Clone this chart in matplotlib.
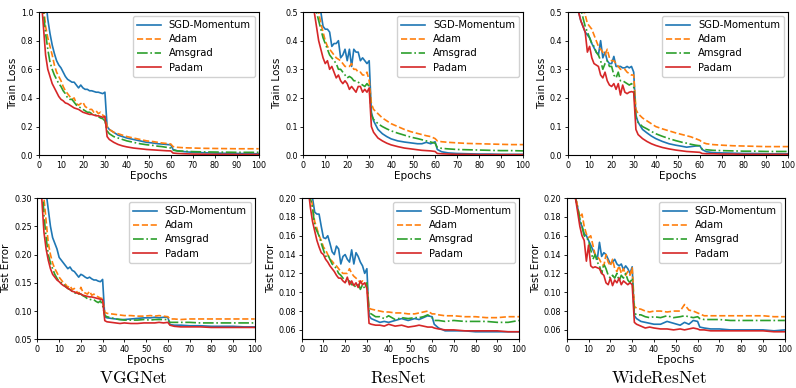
#train loss / test error curves for the three nets
import matplotlib
matplotlib.use('Agg')
import matplotlib.pyplot as plt

plt.rcParams['mathtext.fontset'] = 'cm'

epochs = [1, 2, 3, 4, 5, 6, 7, 8, 9, 10,
          11, 12, 13, 14, 15, 16, 17, 18, 19, 20,
          21, 22, 23, 24, 25, 26, 27, 28, 29, 30,
          31, 32, 34, 36, 38, 40, 43, 46, 49, 52,
          54, 56, 58, 60, 61, 63, 66, 70, 75, 80,
          85, 90, 95, 100]

methods = ['SGD-Momentum', 'Adam', 'Amsgrad', 'Padam']
nets = ['VGGNet', 'ResNet', 'WideResNet']

# VGGNet train loss
vgg_train_sgd = [1.5, 1.3, 1.1, 0.95, 0.85, 0.77, 0.71, 0.66, 0.63, 0.61,
                 0.58, 0.55, 0.53, 0.52, 0.51, 0.51, 0.49, 0.47, 0.49, 0.47,
                 0.46, 0.46, 0.45, 0.45, 0.445, 0.44, 0.44, 0.435, 0.43, 0.44,
                 0.2, 0.18, 0.16, 0.14, 0.13, 0.12, 0.11, 0.10, 0.09, 0.085,
                 0.08, 0.078, 0.075, 0.072, 0.04, 0.03, 0.025, 0.02, 0.017, 0.015,
                 0.013, 0.012, 0.011, 0.01]
vgg_train_adam = [1.3, 1.05, 0.9, 0.82, 0.76, 0.70, 0.63, 0.58, 0.55, 0.52,
                  0.48, 0.45, 0.43, 0.41, 0.39, 0.40, 0.36, 0.35, 0.36, 0.37,
                  0.34, 0.33, 0.32, 0.32, 0.30, 0.31, 0.29, 0.30, 0.28, 0.27,
                  0.20, 0.18, 0.16, 0.15, 0.14, 0.13, 0.12, 0.11, 0.10, 0.095,
                  0.09, 0.085, 0.082, 0.078, 0.06, 0.055, 0.052, 0.05, 0.048, 0.047,
                  0.046, 0.045, 0.045, 0.045]
vgg_train_ams = [1.2, 1.0, 0.85, 0.74, 0.65, 0.6, 0.56, 0.53, 0.5, 0.48,
                 0.45, 0.43, 0.40, 0.39, 0.39, 0.37, 0.35, 0.34, 0.33, 0.32,
                 0.31, 0.30, 0.30, 0.29, 0.28, 0.28, 0.27, 0.26, 0.255, 0.24,
                 0.17, 0.15, 0.13, 0.12, 0.11, 0.10, 0.09, 0.08, 0.073, 0.068,
                 0.063, 0.06, 0.055, 0.05, 0.035, 0.03, 0.028, 0.025, 0.023, 0.022,
                 0.021, 0.02, 0.02, 0.02]
vgg_train_padam = [1.1, 0.9, 0.7, 0.6, 0.55, 0.5, 0.47, 0.44, 0.41, 0.39,
                   0.38, 0.365, 0.36, 0.35, 0.34, 0.33, 0.325, 0.32, 0.31, 0.30,
                   0.295, 0.29, 0.285, 0.285, 0.28, 0.275, 0.275, 0.27, 0.265, 0.27,
                   0.13, 0.11, 0.09, 0.075, 0.065, 0.058, 0.05, 0.045, 0.04, 0.037,
                   0.035, 0.033, 0.031, 0.03, 0.015, 0.012, 0.01, 0.008, 0.007, 0.006,
                   0.006, 0.005, 0.005, 0.005]

# ResNet train loss
res_train_sgd = [1.2, 1.0, 0.85, 0.75, 0.65, 0.6, 0.55, 0.5, 0.45, 0.44,
                 0.44, 0.43, 0.38, 0.39, 0.39, 0.40, 0.34, 0.35, 0.37, 0.33,
                 0.37, 0.31, 0.37, 0.36, 0.36, 0.33, 0.34, 0.33, 0.32, 0.33,
                 0.15, 0.12, 0.09, 0.075, 0.065, 0.057, 0.05, 0.046, 0.043, 0.04,
                 0.04, 0.045, 0.04, 0.047, 0.02, 0.012, 0.008, 0.006, 0.005, 0.004,
                 0.004, 0.003, 0.003, 0.003]
res_train_adam = [1.1, 0.9, 0.75, 0.65, 0.58, 0.54, 0.5, 0.46, 0.43, 0.40,
                  0.38, 0.37, 0.36, 0.35, 0.34, 0.335, 0.33, 0.32, 0.31, 0.31,
                  0.31, 0.32, 0.30, 0.30, 0.29, 0.29, 0.28, 0.28, 0.29, 0.26,
                  0.18, 0.16, 0.145, 0.13, 0.12, 0.11, 0.1, 0.09, 0.082, 0.076,
                  0.072, 0.068, 0.065, 0.058, 0.05, 0.047, 0.045, 0.043, 0.041, 0.04,
                  0.039, 0.038, 0.037, 0.037]
res_train_ams = [1.0, 0.85, 0.7, 0.6, 0.53, 0.5, 0.47, 0.44, 0.41, 0.39,
                 0.37, 0.35, 0.34, 0.33, 0.32, 0.30, 0.30, 0.29, 0.28, 0.27,
                 0.275, 0.27, 0.26, 0.26, 0.255, 0.25, 0.245, 0.24, 0.25, 0.24,
                 0.14, 0.125, 0.11, 0.1, 0.092, 0.085, 0.077, 0.07, 0.063, 0.058,
                 0.054, 0.05, 0.046, 0.042, 0.027, 0.024, 0.022, 0.02, 0.019, 0.018,
                 0.017, 0.016, 0.016, 0.015]
res_train_padam = [0.9, 0.75, 0.62, 0.55, 0.5, 0.45, 0.40, 0.37, 0.34, 0.32,
                   0.33, 0.30, 0.31, 0.29, 0.27, 0.28, 0.26, 0.25, 0.26, 0.25,
                   0.23, 0.24, 0.23, 0.22, 0.24, 0.24, 0.22, 0.23, 0.22, 0.235,
                   0.10, 0.08, 0.06, 0.05, 0.042, 0.036, 0.03, 0.025, 0.022, 0.019,
                   0.017, 0.016, 0.015, 0.013, 0.006, 0.005, 0.004, 0.003, 0.003, 0.002,
                   0.002, 0.002, 0.002, 0.002]

# WideResNet train loss
wrn_train_sgd = [0.9, 0.75, 0.64, 0.56, 0.5, 0.47, 0.45, 0.43, 0.42, 0.41,
                 0.39, 0.375, 0.36, 0.35, 0.40, 0.34, 0.36, 0.33, 0.32, 0.32,
                 0.345, 0.31, 0.31, 0.31, 0.305, 0.305, 0.31, 0.305, 0.31, 0.29,
                 0.14, 0.115, 0.09, 0.078, 0.067, 0.058, 0.048, 0.04, 0.035, 0.031,
                 0.028, 0.03, 0.032, 0.033, 0.02, 0.012, 0.009, 0.008, 0.007, 0.006,
                 0.006, 0.005, 0.005, 0.005]
wrn_train_adam = [1.1, 0.9, 0.78, 0.68, 0.6, 0.55, 0.51, 0.49, 0.46, 0.45,
                  0.44, 0.42, 0.40, 0.38, 0.37, 0.36, 0.35, 0.37, 0.34, 0.33,
                  0.33, 0.32, 0.31, 0.30, 0.30, 0.30, 0.29, 0.285, 0.28, 0.28,
                  0.16, 0.145, 0.13, 0.12, 0.11, 0.10, 0.092, 0.085, 0.078, 0.072,
                  0.068, 0.064, 0.058, 0.052, 0.045, 0.04, 0.037, 0.035, 0.033, 0.032,
                  0.031, 0.03, 0.03, 0.03]
wrn_train_ams = [1.0, 0.82, 0.7, 0.62, 0.56, 0.51, 0.48, 0.45, 0.43, 0.41,
                 0.39, 0.38, 0.36, 0.35, 0.33, 0.30, 0.32, 0.33, 0.31, 0.31,
                 0.28, 0.27, 0.29, 0.26, 0.26, 0.255, 0.25, 0.245, 0.25, 0.24,
                 0.13, 0.115, 0.1, 0.092, 0.083, 0.075, 0.066, 0.058, 0.051, 0.045,
                 0.042, 0.038, 0.035, 0.033, 0.022, 0.019, 0.017, 0.016, 0.015, 0.014,
                 0.014, 0.013, 0.013, 0.013]
wrn_train_padam = [0.9, 0.75, 0.63, 0.55, 0.5, 0.47, 0.45, 0.43, 0.36, 0.38,
                   0.34, 0.32, 0.315, 0.31, 0.28, 0.27, 0.29, 0.26, 0.245, 0.24,
                   0.25, 0.23, 0.25, 0.21, 0.245, 0.22, 0.215, 0.22, 0.222, 0.22,
                   0.09, 0.072, 0.058, 0.048, 0.04, 0.034, 0.027, 0.022, 0.018, 0.015,
                   0.013, 0.012, 0.011, 0.01, 0.006, 0.005, 0.005, 0.004, 0.004, 0.003,
                   0.003, 0.003, 0.003, 0.003]

# VGGNet test error
vgg_test_sgd = [0.6, 0.45, 0.36, 0.31, 0.28, 0.25, 0.23, 0.22, 0.21, 0.195,
                0.19, 0.185, 0.18, 0.175, 0.178, 0.172, 0.17, 0.165, 0.16, 0.165,
                0.163, 0.16, 0.158, 0.16, 0.157, 0.155, 0.155, 0.153, 0.152, 0.156,
                0.09, 0.088, 0.087, 0.086, 0.085, 0.085, 0.086, 0.087, 0.088, 0.088,
                0.089, 0.088, 0.089, 0.089, 0.076, 0.075, 0.075, 0.074, 0.074, 0.073,
                0.073, 0.073, 0.072, 0.072]
vgg_test_adam = [0.5, 0.38, 0.3, 0.26, 0.22, 0.2, 0.185, 0.175, 0.168, 0.16,
                 0.155, 0.15, 0.147, 0.142, 0.145, 0.138, 0.14, 0.135, 0.13, 0.142,
                 0.133, 0.132, 0.13, 0.135, 0.128, 0.13, 0.127, 0.125, 0.123, 0.122,
                 0.098, 0.096, 0.095, 0.094, 0.093, 0.092, 0.092, 0.091, 0.091, 0.092,
                 0.091, 0.092, 0.091, 0.09, 0.086, 0.086, 0.085, 0.086, 0.086, 0.086,
                 0.086, 0.086, 0.086, 0.086]
vgg_test_ams = [0.45, 0.34, 0.27, 0.23, 0.2, 0.185, 0.175, 0.165, 0.158, 0.152,
                0.15, 0.148, 0.143, 0.14, 0.138, 0.135, 0.133, 0.13, 0.131, 0.13,
                0.127, 0.125, 0.122, 0.12, 0.121, 0.12, 0.117, 0.115, 0.118, 0.11,
                0.092, 0.09, 0.088, 0.086, 0.085, 0.084, 0.084, 0.084, 0.085, 0.084,
                0.085, 0.085, 0.085, 0.085, 0.08, 0.08, 0.08, 0.08, 0.079, 0.079,
                0.079, 0.079, 0.079, 0.079]
vgg_test_padam = [0.4, 0.3, 0.24, 0.21, 0.19, 0.175, 0.165, 0.16, 0.155, 0.152,
                  0.148, 0.145, 0.143, 0.14, 0.138, 0.135, 0.134, 0.132, 0.131, 0.13,
                  0.128, 0.127, 0.126, 0.125, 0.125, 0.124, 0.123, 0.122, 0.121, 0.12,
                  0.083, 0.081, 0.08, 0.079, 0.078, 0.079, 0.078, 0.078, 0.079, 0.079,
                  0.079, 0.08, 0.079, 0.08, 0.075, 0.073, 0.072, 0.072, 0.072, 0.071,
                  0.071, 0.071, 0.071, 0.071]

# ResNet test error
res_test_sgd = [0.35, 0.3, 0.26, 0.225, 0.2, 0.185, 0.183, 0.183, 0.17, 0.158,
                0.157, 0.16, 0.152, 0.143, 0.14, 0.149, 0.146, 0.13, 0.138, 0.14,
                0.135, 0.132, 0.145, 0.13, 0.142, 0.138, 0.132, 0.128, 0.12, 0.125,
                0.075, 0.072, 0.07, 0.068, 0.069, 0.068, 0.07, 0.072, 0.07, 0.072,
                0.071, 0.073, 0.075, 0.074, 0.066, 0.062, 0.059, 0.059, 0.059, 0.058,
                0.058, 0.058, 0.058, 0.058]
res_test_adam = [0.3, 0.26, 0.23, 0.21, 0.19, 0.175, 0.168, 0.16, 0.155, 0.148,
                 0.145, 0.14, 0.135, 0.133, 0.13, 0.128, 0.125, 0.122, 0.12, 0.12,
                 0.12, 0.125, 0.12, 0.117, 0.115, 0.113, 0.11, 0.112, 0.11, 0.108,
                 0.083, 0.082, 0.081, 0.08, 0.079, 0.079, 0.078, 0.078, 0.077, 0.077,
                 0.078, 0.079, 0.08, 0.077, 0.077, 0.076, 0.075, 0.075, 0.074, 0.074,
                 0.073, 0.073, 0.074, 0.074]
res_test_ams = [0.3, 0.26, 0.225, 0.2, 0.19, 0.17, 0.165, 0.16, 0.152, 0.145,
                0.138, 0.14, 0.135, 0.13, 0.128, 0.125, 0.12, 0.118, 0.115, 0.112,
                0.11, 0.112, 0.108, 0.108, 0.105, 0.11, 0.103, 0.108, 0.104, 0.11,
                0.078, 0.077, 0.074, 0.074, 0.072, 0.075, 0.071, 0.073, 0.072, 0.073,
                0.073, 0.074, 0.076, 0.073, 0.07, 0.07, 0.069, 0.07, 0.069, 0.069,
                0.069, 0.068, 0.068, 0.07]
res_test_padam = [0.28, 0.24, 0.21, 0.19, 0.175, 0.165, 0.155, 0.148, 0.142, 0.14,
                  0.135, 0.132, 0.128, 0.125, 0.122, 0.118, 0.115, 0.115, 0.112, 0.11,
                  0.116, 0.108, 0.112, 0.107, 0.11, 0.105, 0.112, 0.108, 0.11, 0.104,
                  0.067, 0.066, 0.065, 0.065, 0.064, 0.066, 0.064, 0.065, 0.063, 0.064,
                  0.065, 0.064, 0.063, 0.063, 0.062, 0.061, 0.06, 0.06, 0.059, 0.059,
                  0.059, 0.059, 0.058, 0.058]

# WideResNet test error
wrn_test_sgd = [0.3, 0.26, 0.23, 0.2, 0.19, 0.175, 0.17, 0.162, 0.16, 0.155,
                0.15, 0.145, 0.14, 0.135, 0.153, 0.138, 0.142, 0.14, 0.135, 0.13,
                0.132, 0.135, 0.13, 0.128, 0.13, 0.124, 0.128, 0.125, 0.12, 0.127,
                0.075, 0.072, 0.069, 0.068, 0.067, 0.066, 0.066, 0.069, 0.067, 0.065,
                0.068, 0.066, 0.07, 0.069, 0.063, 0.062, 0.061, 0.061, 0.06, 0.06,
                0.06, 0.06, 0.059, 0.06]
wrn_test_adam = [0.3, 0.26, 0.23, 0.205, 0.19, 0.18, 0.183, 0.17, 0.162, 0.158,
                 0.16, 0.15, 0.14, 0.138, 0.135, 0.13, 0.128, 0.14, 0.132, 0.128,
                 0.135, 0.125, 0.122, 0.128, 0.12, 0.125, 0.118, 0.122, 0.118, 0.126,
                 0.085, 0.083, 0.082, 0.08, 0.079, 0.08, 0.08, 0.079, 0.08, 0.08,
                 0.087, 0.081, 0.08, 0.078, 0.077, 0.075, 0.075, 0.075, 0.075, 0.075,
                 0.075, 0.075, 0.074, 0.074]
wrn_test_ams = [0.3, 0.26, 0.225, 0.2, 0.19, 0.178, 0.17, 0.16, 0.158, 0.155,
                0.145, 0.135, 0.14, 0.132, 0.128, 0.12, 0.13, 0.125, 0.118, 0.115,
                0.118, 0.115, 0.12, 0.112, 0.118, 0.115, 0.12, 0.113, 0.11, 0.115,
                0.078, 0.076, 0.076, 0.074, 0.073, 0.074, 0.073, 0.075, 0.073, 0.074,
                0.075, 0.074, 0.073, 0.074, 0.072, 0.071, 0.071, 0.071, 0.07, 0.07,
                0.07, 0.07, 0.07, 0.07]
wrn_test_padam = [0.29, 0.25, 0.22, 0.2, 0.185, 0.17, 0.16, 0.155, 0.133, 0.15,
                  0.128, 0.126, 0.127, 0.126, 0.125, 0.12, 0.118, 0.11, 0.108, 0.115,
                  0.107, 0.113, 0.11, 0.115, 0.108, 0.112, 0.11, 0.108, 0.11, 0.108,
                  0.068, 0.066, 0.064, 0.062, 0.063, 0.062, 0.061, 0.061, 0.06, 0.061,
                  0.06, 0.061, 0.062, 0.061, 0.06, 0.06, 0.059, 0.059, 0.059, 0.059,
                  0.059, 0.059, 0.058, 0.058]

train_data = [[vgg_train_sgd, vgg_train_adam, vgg_train_ams, vgg_train_padam],
              [res_train_sgd, res_train_adam, res_train_ams, res_train_padam],
              [wrn_train_sgd, wrn_train_adam, wrn_train_ams, wrn_train_padam]]
test_data = [[vgg_test_sgd, vgg_test_adam, vgg_test_ams, vgg_test_padam],
             [res_test_sgd, res_test_adam, res_test_ams, res_test_padam],
             [wrn_test_sgd, wrn_test_adam, wrn_test_ams, wrn_test_padam]]

colors = ['#1f77b4', '#ff7f0e', '#2ca02c', '#d62728']
styles = ['-', '--', '-.', '-']

fig = plt.figure(figsize=(7.96, 3.88), dpi=100)

# axes boxes in figure fraction (left, bottom, width, height)
top_boxes = [[0.049, 0.600, 0.276, 0.369],
             [0.381, 0.600, 0.276, 0.369],
             [0.713, 0.600, 0.277, 0.369]]
bot_boxes = [[0.047, 0.1255, 0.273, 0.364],
             [0.379, 0.1255, 0.273, 0.364],
             [0.712, 0.1255, 0.274, 0.364]]
train_ylim = [(0, 1.0), (0, 0.5), (0, 0.5)]
test_ylim = [(0.05, 0.30), (0.05, 0.20), (0.05, 0.20)]
test_ticks = [[0.05, 0.10, 0.15, 0.20, 0.25, 0.30],
              [0.06, 0.08, 0.10, 0.12, 0.14, 0.16, 0.18, 0.20],
              [0.06, 0.08, 0.10, 0.12, 0.14, 0.16, 0.18, 0.20]]


def draw(ax, series, ylim, ylabel):
    for s, col, ls, name in zip(series, colors, styles, methods):
        ax.plot(epochs, s, color=col, linestyle=ls, linewidth=1.2, label=name)
    ax.set_xlim(0, 100)
    ax.set_ylim(*ylim)
    ax.set_xticks(range(0, 101, 10))
    ax.tick_params(labelsize=5.8, length=2.5, width=0.6, pad=1.5)
    ax.set_xlabel('Epochs', fontsize=7.5, labelpad=1)
    ax.set_ylabel(ylabel, fontsize=7.5, labelpad=2)
    for sp in ax.spines.values():
        sp.set_linewidth(0.8)
    ax.legend(loc='upper right', fontsize=7.2, handlelength=2.4, borderaxespad=0.4,
              labelspacing=0.42, borderpad=0.4, framealpha=0.9)


for i in range(3):
    ax = fig.add_axes(top_boxes[i])
    draw(ax, train_data[i], train_ylim[i], 'Train Loss')
    if i == 0:
        ax.set_yticks([0.0, 0.2, 0.4, 0.6, 0.8, 1.0])
    else:
        ax.set_yticks([0.0, 0.1, 0.2, 0.3, 0.4, 0.5])
    ax.set_yticklabels(['%.1f' % t for t in ax.get_yticks()])

    ax = fig.add_axes(bot_boxes[i])
    draw(ax, test_data[i], test_ylim[i], 'Test Error')
    ax.set_yticks(test_ticks[i])
    ax.set_yticklabels(['%.2f' % t for t in test_ticks[i]])

# subfigure captions
cap_x = [133 / 796, 398 / 796, 659 / 796]
for x, name in zip(cap_x, nets):
    fig.text(x, 1 - 378 / 388, r'$\mathrm{%s}$' % name, fontsize=12.5,
             ha='center', va='center')

fig.savefig('out.png', dpi=100)
